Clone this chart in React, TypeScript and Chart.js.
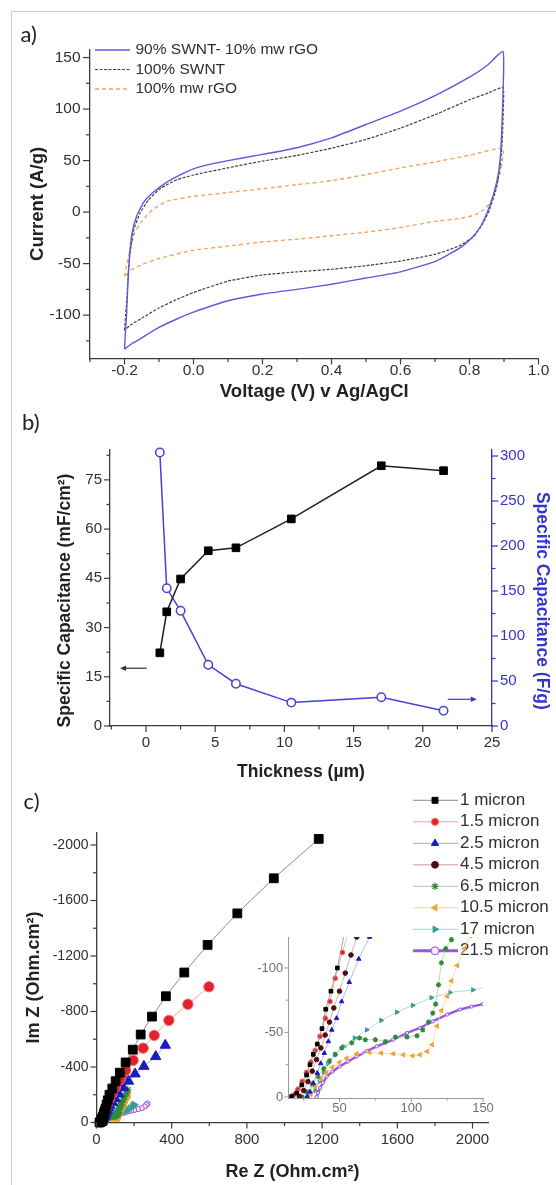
import React, { useEffect, useRef } from 'react';
import { Chart, registerables } from 'chart.js';
import { drawPoint } from 'chart.js/helpers';

Chart.register(...registerables);

const SANS = '"Liberation Sans", Arial, Helvetica, sans-serif';
const AXIS = '#3c3c3c';
const TEXT = '#303030';

/* ---------------- (a) cyclic voltammograms ---------------- */
const cvSeriesNames = ['90% SWNT- 10% mw rGO', '100% SWNT', '100% mw rGO'];
const cvHybridV = [-0.2, -0.197, -0.194, -0.191, -0.186, -0.179, -0.166, -0.146, -0.119, -0.078, -0.027, 0.0, 0.056, 0.1, 0.2, 0.3, 0.4, 0.5, 0.6, 0.7, 0.8, 0.85, 0.897, 0.898, 0.895, 0.891, 0.884, 0.871, 0.853, 0.832, 0.807, 0.776, 0.74, 0.7, 0.6, 0.5, 0.4, 0.3, 0.2, 0.1, 0.0, -0.05, -0.1, -0.15, -0.18, -0.2];
const cvHybridI = [-133, -115, -100, -75, -45, -22, -5, 8.8, 18.5, 28.9, 38, 42, 47, 50, 56, 62.5, 72, 85, 98, 113, 131, 142, 156, 125, 93, 61, 38, 18.5, 1, -14, -25, -34, -41, -48, -58, -64, -70, -75, -79.5, -86, -97, -104, -112, -122, -128, -133];
const cvSwntV = [-0.2, -0.197, -0.193, -0.189, -0.183, -0.173, -0.155, -0.13, -0.094, -0.047, 0.0, 0.1, 0.2, 0.3, 0.4, 0.5, 0.6, 0.7, 0.8, 0.85, 0.897, 0.898, 0.895, 0.889, 0.877, 0.858, 0.837, 0.812, 0.776, 0.735, 0.7, 0.6, 0.5, 0.4, 0.3, 0.2, 0.1, 0.0, -0.05, -0.1, -0.15, -0.18, -0.2];
const cvSwntI = [-114.6, -100, -85, -59, -37, -17, -1, 12, 23.4, 31.5, 36, 43, 49.5, 55, 62, 70.5, 81.5, 94.5, 109, 115, 121, 100, 70.5, 44.5, 22, 2.3, -12, -23.7, -31.8, -37.3, -41, -47.5, -52, -55.5, -58, -61, -67, -78, -85, -93, -103, -109, -114.6];
const cvRgoV = [-0.2, -0.193, -0.186, -0.171, -0.15, -0.119, -0.078, 0.0, 0.1, 0.2, 0.3, 0.4, 0.5, 0.6, 0.7, 0.8, 0.897, 0.894, 0.884, 0.868, 0.848, 0.817, 0.776, 0.7, 0.6, 0.5, 0.4, 0.3, 0.2, 0.1, 0.0, -0.1, -0.15, -0.18, -0.2];
const cvRgoI = [-62.7, -50, -40, -20.5, -9, 2.3, 10.4, 15.3, 19, 22.7, 26.6, 30.5, 36.4, 42.9, 48.7, 55.2, 62, 47.7, 31.5, 15, 4, -2.6, -6, -9, -15, -19.5, -23, -26.3, -29, -33, -37, -45, -51, -56, -62.7];
const cvXMajor = [-0.2, 0, 0.2, 0.4, 0.6, 0.8, 1.0];
const cvXMinor = [-0.3, -0.1, 0.1, 0.3, 0.5, 0.7, 0.9];
const cvYMajor = [-100, -50, 0, 50, 100, 150];
const cvYMinor = [-125, -75, -25, 25, 75, 125];

/* ---------------- (b) capacitance vs thickness ---------------- */
const thickness = [1, 1.5, 2.5, 4.5, 6.5, 10.5, 17, 21.5];
const arealCap = [22.3, 34.8, 44.8, 53.4, 54.3, 63.1, 79.3, 77.8];
const gravCap = [304, 153, 128, 68, 47, 26, 32, 17];
const thXMajor = [0, 5, 10, 15, 20, 25];
const thXMinor = [-2.5, 2.5, 7.5, 12.5, 17.5, 22.5];
const arealMajor = [0, 15, 30, 45, 60, 75];
const arealMinor = [7.5, 22.5, 37.5, 52.5, 67.5, 82.5];
const gravMajor = [0, 50, 100, 150, 200, 250, 300];
const gravMinor = [25, 75, 125, 175, 225, 275];
const arealArrow = { from: [0.05, 17.6], to: [-1.87, 17.6] };
const gravArrow = { from: [21.8, 29.7], to: [23.9, 29.7] };

/* ---------------- (c) Nyquist plots ---------------- */
const eisNames = ['1 micron', '1.5 micron', '2.5 micron', '4.5 micron', '6.5 micron', '10.5 micron', '17 micron', '21.5 micron'];
const eis1Re = [1182, 943, 749, 591, 467, 369, 295, 235, 193, 155, 124, 102, 84, 69, 60, 54, 48.5, 44, 40.4, 37.8, 34.5, 31.7, 29.4, 27.1, 23.7, 20.1, 16.6];
const eis1Im = [-2044, -1760, -1507, -1280, -1081, -910, -763, -634, -525, -433, -359, -298, -245, -200, -160, -130, -100, -82, -68, -53, -41, -33, -25, -17, -9.3, -3, -0.3];
const eis15Re = [598, 486, 385, 307, 248, 195, 155, 125, 100, 82, 67, 58, 52, 47, 43.4, 40.1, 36.4, 33, 30, 27, 24, 21, 18];
const eis15Im = [-978, -852, -736, -628, -536, -448, -375, -310, -255, -208, -168, -135, -112, -92, -74, -61, -47, -36, -27, -19, -12, -6, -1.5];
const eis25Re = [366, 315, 252, 205, 170, 143, 119, 100, 85, 71, 63.4, 56.8, 51.5, 48, 44.6, 42.2, 39.4, 36.9, 34.5, 31.7, 29.4, 27.5];
const eis25Im = [-557, -475, -405, -350, -298, -250, -205, -172, -145, -124, -107, -89, -74, -61, -52, -43, -34, -26, -18.5, -10.7, -4, -0.5];
const eis45Re = [140, 126, 112, 98, 86, 76, 68, 62, 58, 54, 50, 46, 43, 40, 37, 34, 31, 28, 25, 22];
const eis45Im = [-340, -308, -272, -236, -202, -172, -145, -124, -110, -96, -82, -69, -58, -48, -38, -29, -20, -12, -5, -0.5];
const eis65Re = [166, 158, 150, 142, 135, 128, 124, 121, 119, 117, 115, 112, 108, 104, 97, 89, 82, 75, 68, 64, 58.5, 51.5, 47, 43, 39, 35, 31, 27, 24];
const eis65Im = [-235, -212, -190, -165, -145, -122, -115, -104, -87, -72, -65, -58, -52, -47.5, -46.5, -46.5, -43, -44.4, -44.4, -45.7, -42, -38, -33, -28, -22, -16, -10, -4, 0];
const eis105Re = [168, 162, 155, 148, 141, 137, 132, 128, 125, 121, 118, 114.5, 111, 106, 101, 94.5, 87.5, 79, 71, 62, 55, 50, 45, 41, 37, 33, 30];
const eis105Im = [-200, -185, -165, -145, -125, -115, -102, -90, -78, -67, -55, -40.5, -35.3, -32.7, -31.9, -32.7, -33.5, -34, -34.5, -33.5, -30, -27, -23, -19, -14, -8, -2];
const eis17Re = [200, 192, 180, 168, 155, 143, 127, 114, 101, 90, 79, 69, 60.5, 53, 47, 42, 39, 36, 33];
const eis17Im = [-128, -115, -102, -92, -86, -83, -81, -77, -71, -65.7, -59.4, -52, -45.7, -39, -32.7, -26, -19, -12, -5];
const eis215Re = [272, 265, 255, 240, 220, 200, 185, 172, 160, 150, 142, 134, 125, 115, 106, 97, 87.5, 82, 76, 69, 62, 56, 50, 45, 41, 38.5, 36.5, 35, 34];
const eis215Im = [-137, -127, -115, -103, -96, -90, -86, -82, -77, -72, -70, -67.8, -63.9, -58.6, -53.5, -49.6, -44.4, -42, -39.2, -35.5, -31.4, -27.5, -23.6, -19.5, -15.8, -11, -7, -3, 0];
const eisRe = [eis1Re, eis15Re, eis25Re, eis45Re, eis65Re, eis105Re, eis17Re, eis215Re];
const eisIm = [eis1Im, eis15Im, eis25Im, eis45Im, eis65Im, eis105Im, eis17Im, eis215Im];
const eisXMajor = [0, 400, 800, 1200, 1600, 2000];
const eisXMinor = [200, 600, 1000, 1400, 1800];
const eisYMajor = [0, -400, -800, -1200, -1600, -2000];
const eisYMinor = [-200, -600, -1000, -1400, -1800];
const insetXMajor = [50, 100, 150];
const insetXMinor = [25, 75, 125];
const insetYMajor = [0, -50, -100];
const insetYMinor = [-25, -75];

const eisStyle: any[] = [
  { fill: '#000000', edge: '#000000', line: '#8c8c8c', shape: 'rect', rot: 0, r: 6.2, ir: 2.6, lr: 4.2, lw: 1 },
  { fill: '#e3212b', edge: '#f07070', line: '#f3a3a3', shape: 'circle', rot: 0, r: 5.2, ir: 2.4, lr: 3.6, lw: 1 },
  { fill: '#1b1bc4', edge: '#1b1bc4', line: '#a3a3ee', shape: 'triangle', rot: 0, r: 6, ir: 2.6, lr: 4.2, lw: 1 },
  { fill: '#4d0f12', edge: '#4d0f12', line: '#cf9a9a', shape: 'circle', rot: 0, r: 3.6, ir: 2.3, lr: 3.4, lw: 1 },
  { fill: '#2e8b3a', edge: '#2e8b3a', line: '#a9cfa9', shape: 'star', rot: 0, r: 3.8, ir: 2.6, lr: 3.6, lw: 1 },
  { fill: '#f0a431', edge: '#f0a431', line: '#f8d3a3', shape: 'triangle', rot: -90, r: 4.2, ir: 2.6, lr: 3.8, lw: 1 },
  { fill: '#3a9d9a', edge: '#3a9d9a', line: '#a6d3d3', shape: 'triangle', rot: 90, r: 4.2, ir: 2.6, lr: 3.8, lw: 1 },
  { fill: '#f3e8ff', edge: '#9a55e4', line: '#9a55e4', shape: 'circle', rot: 0, r: 2.6, ir: 1.6, lr: 4, lw: 3 },
];

/* ---------------- plugins ---------------- */
function ticksPlugin(sets: any[]) {
  return {
    id: 'outTicks',
    afterDraw(chart: any) {
      const ctx = chart.ctx;
      sets.forEach((t) => {
        const s = chart.scales[t.id];
        const lo = Math.min(s.min, s.max);
        const hi = Math.max(s.min, s.max);
        ctx.save();
        ctx.strokeStyle = t.color;
        ctx.lineWidth = t.lw;
        const one = (v: number, len: number) => {
          if (v < lo - 1e-9 || v > hi + 1e-9) return;
          const p = s.getPixelForValue(v);
          ctx.beginPath();
          if (t.side === 'bottom') { ctx.moveTo(p, s.top); ctx.lineTo(p, s.top + len); }
          else if (t.side === 'left') { ctx.moveTo(s.right, p); ctx.lineTo(s.right - len, p); }
          else { ctx.moveTo(s.left, p); ctx.lineTo(s.left + len, p); }
          ctx.stroke();
        };
        t.major.forEach((v: number) => one(v, t.majorLen));
        t.minor.forEach((v: number) => one(v, t.minorLen));
        ctx.restore();
      });
    },
  };
}

function lineLegendPlugin(cfg: any) {
  return {
    id: 'lineLegend',
    afterDraw(chart: any) {
      const ctx = chart.ctx;
      chart.data.datasets.forEach((ds: any, i: number) => {
        const y = cfg.y0 + i * cfg.dy;
        ctx.save();
        ctx.strokeStyle = ds.borderColor;
        ctx.lineWidth = ds.borderWidth;
        ctx.setLineDash(ds.borderDash || []);
        ctx.beginPath();
        ctx.moveTo(cfg.x0, y);
        ctx.lineTo(cfg.x1, y);
        ctx.stroke();
        ctx.setLineDash([]);
        ctx.fillStyle = cfg.color;
        ctx.font = cfg.font;
        ctx.textAlign = 'left';
        ctx.textBaseline = 'middle';
        ctx.fillText(ds.label, cfg.tx, y);
        ctx.restore();
      });
    },
  };
}

function markerLegendPlugin(cfg: any) {
  return {
    id: 'markerLegend',
    afterDraw(chart: any) {
      const ctx = chart.ctx;
      chart.data.datasets.forEach((ds: any, i: number) => {
        const y = cfg.y0 + i * cfg.dy;
        const st = eisStyle[i];
        ctx.save();
        ctx.strokeStyle = ds.borderColor;
        ctx.lineWidth = ds.borderWidth;
        ctx.beginPath();
        ctx.moveTo(cfg.x0, y);
        ctx.lineTo(cfg.x1, y);
        ctx.stroke();
        ctx.fillStyle = ds.pointBackgroundColor;
        ctx.strokeStyle = ds.pointBorderColor;
        ctx.lineWidth = ds.pointBorderWidth;
        drawPoint(ctx, { pointStyle: ds.pointStyle, rotation: ds.pointRotation || 0, radius: st.lr, borderWidth: ds.pointBorderWidth }, cfg.xm, y);
        ctx.fillStyle = cfg.color;
        ctx.font = cfg.font;
        ctx.textAlign = 'left';
        ctx.textBaseline = 'middle';
        ctx.fillText(ds.label, cfg.tx, y);
        ctx.restore();
      });
    },
  };
}

function textPlugin(items: any[]) {
  return {
    id: 'freeText',
    afterDraw(chart: any) {
      const ctx = chart.ctx;
      items.forEach((t) => {
        ctx.save();
        ctx.translate(t.x, t.y);
        ctx.rotate(t.rot);
        ctx.font = t.font;
        ctx.fillStyle = t.color;
        ctx.textAlign = 'center';
        ctx.textBaseline = 'middle';
        ctx.fillText(t.text, 0, 0);
        ctx.restore();
      });
    },
  };
}

function arrowPlugin(list: any[]) {
  return {
    id: 'arrows',
    afterDraw(chart: any) {
      const ctx = chart.ctx;
      list.forEach((a) => {
        const xs = chart.scales[a.xAxis];
        const ys = chart.scales[a.yAxis];
        const x1 = xs.getPixelForValue(a.from[0]);
        const y1 = ys.getPixelForValue(a.from[1]);
        const x2 = xs.getPixelForValue(a.to[0]);
        const y2 = ys.getPixelForValue(a.to[1]);
        const ang = Math.atan2(y2 - y1, x2 - x1);
        const hl = 6, hw = 2.8;
        const bx = x2 - hl * Math.cos(ang), by = y2 - hl * Math.sin(ang);
        ctx.save();
        ctx.strokeStyle = a.color;
        ctx.fillStyle = a.color;
        ctx.lineWidth = 1.2;
        ctx.beginPath();
        ctx.moveTo(x1, y1);
        ctx.lineTo(bx, by);
        ctx.stroke();
        ctx.beginPath();
        ctx.moveTo(x2, y2);
        ctx.lineTo(bx - hw * Math.sin(ang), by + hw * Math.cos(ang));
        ctx.lineTo(bx + hw * Math.sin(ang), by - hw * Math.cos(ang));
        ctx.closePath();
        ctx.fill();
        ctx.restore();
      });
    },
  };
}

/* ---------------- helpers ---------------- */
const fixedTicks = (vals: number[]) => (s: any) => { s.ticks = vals.map((v) => ({ value: v })); };
const tickFont = (size: number) => ({ family: SANS, size });
const titleFont = (size: number) => ({ family: SANS, size, weight: 'bold' as const });
const noGrid = { display: false, drawTicks: false, tickLength: 0 };
const baseOptions = (padding: any) => ({
  responsive: false,
  maintainAspectRatio: false,
  animation: false as const,
  events: [] as any[],
  layout: { padding },
  plugins: { legend: { display: false }, tooltip: { enabled: false } },
});
const pairs = (xs: number[], ys: number[]) => xs.map((x, i) => ({ x, y: ys[i] }));

/* ---------------- chart configs ---------------- */
function cvConfig(): any {
  const line = (label: string, xs: number[], ys: number[], color: string, width: number, dash: number[]) => ({
    label, data: pairs(xs, ys), showLine: true, borderColor: color, borderWidth: width, borderDash: dash,
    pointRadius: 0, tension: 0.15, fill: false,
  });
  return {
    type: 'scatter',
    data: {
      datasets: [
        line(cvSeriesNames[0], cvHybridV, cvHybridI, '#5b5bdc', 1.4, []),
        line(cvSeriesNames[1], cvSwntV, cvSwntI, '#3e3e3e', 1.2, [3, 1.5]),
        line(cvSeriesNames[2], cvRgoV, cvRgoI, '#f5a55c', 1.4, [4, 3]),
      ],
    },
    options: {
      ...baseOptions({ top: 49.3, right: 17.5, left: 0, bottom: 0 }),
      scales: {
        x: {
          type: 'linear', min: -0.3, max: 1.0,
          afterBuildTicks: fixedTicks(cvXMajor),
          afterFit: (s: any) => { s.height = 61.6; },
          grid: noGrid,
          border: { display: true, color: AXIS, width: 1.3 },
          ticks: { autoSkip: false, maxRotation: 0, padding: 3.5, color: TEXT, font: tickFont(15.5), callback: (v: any) => Number(v).toFixed(1) },
          title: { display: true, text: 'Voltage (V) v Ag/AgCl', color: '#222', font: titleFont(18.5), padding: { top: 0, bottom: 16.5 } },
        },
        y: {
          type: 'linear', min: -142, max: 158,
          afterBuildTicks: fixedTicks(cvYMajor),
          afterFit: (s: any) => { s.width = 90; },
          grid: noGrid,
          border: { display: true, color: AXIS, width: 1.3 },
          ticks: { autoSkip: false, padding: 9.5, color: TEXT, font: tickFont(15.5), callback: (v: any) => String(v) },
          title: { display: true, text: 'Current (A/g)', color: '#222', font: titleFont(18.5), padding: { top: 26.9, bottom: 0 } },
        },
      },
    },
    plugins: [
      ticksPlugin([
        { id: 'x', side: 'bottom', major: cvXMajor, minor: cvXMinor, color: AXIS, majorLen: 6, minorLen: 3.5, lw: 1.2 },
        { id: 'y', side: 'left', major: cvYMajor, minor: cvYMinor, color: AXIS, majorLen: 7, minorLen: 4, lw: 1.2 },
      ]),
      lineLegendPlugin({ x0: 95, x1: 130, tx: 135.5, y0: 50, dy: 19.5, font: `15.5px ${SANS}`, color: TEXT }),
    ],
  };
}

function capConfig(): any {
  const BLUE = '#3434d2';
  return {
    type: 'scatter',
    data: {
      datasets: [
        {
          label: 'Areal', data: pairs(thickness, arealCap), yAxisID: 'y', showLine: true,
          borderColor: '#1f1f1f', borderWidth: 1.5, pointStyle: 'rect', pointRadius: 5.4,
          pointBackgroundColor: '#000', pointBorderColor: '#000', pointBorderWidth: 1, clip: false,
        },
        {
          label: 'Gravimetric', data: pairs(thickness, gravCap), yAxisID: 'y2', showLine: true,
          borderColor: '#4343d8', borderWidth: 1.5, pointStyle: 'circle', pointRadius: 4.2,
          pointBackgroundColor: '#ffffff', pointBorderColor: '#4343d8', pointBorderWidth: 1.5, clip: false,
        },
      ],
    },
    options: {
      ...baseOptions({ top: 50, right: 0, left: 0, bottom: 0 }),
      scales: {
        x: {
          type: 'linear', min: -2.6, max: 25,
          afterBuildTicks: fixedTicks(thXMajor),
          afterFit: (s: any) => { s.height = 74; },
          grid: noGrid,
          border: { display: true, color: AXIS, width: 1.3 },
          ticks: { autoSkip: false, maxRotation: 0, padding: 8, color: TEXT, font: tickFont(15), callback: (v: any) => String(v) },
          title: { display: true, text: 'Thickness (µm)', color: '#222', font: titleFont(17.5), padding: { top: 0, bottom: 17.5 } },
        },
        y: {
          type: 'linear', position: 'left', min: 0, max: 84.1,
          afterBuildTicks: fixedTicks(arealMajor),
          afterFit: (s: any) => { s.width = 110; },
          grid: noGrid,
          border: { display: true, color: AXIS, width: 1.3 },
          ticks: { autoSkip: false, padding: 8, color: TEXT, font: tickFont(15), callback: (v: any) => String(v) },
        },
        y2: {
          type: 'linear', position: 'right', min: 0, max: 306.7,
          afterBuildTicks: fixedTicks(gravMajor),
          afterFit: (s: any) => { s.width = 64; },
          grid: noGrid,
          border: { display: true, color: BLUE, width: 1.3 },
          ticks: { autoSkip: false, padding: 8, color: BLUE, font: tickFont(15), callback: (v: any) => String(v) },
        },
      },
    },
    plugins: [
      ticksPlugin([
        { id: 'x', side: 'bottom', major: thXMajor, minor: thXMinor, color: AXIS, majorLen: 6, minorLen: 3.5, lw: 1.2 },
        { id: 'y', side: 'left', major: arealMajor, minor: arealMinor, color: AXIS, majorLen: 6, minorLen: 3.5, lw: 1.2 },
        { id: 'y2', side: 'right', major: gravMajor, minor: gravMinor, color: BLUE, majorLen: 6, minorLen: 3.5, lw: 1.2 },
      ]),
      arrowPlugin([
        { xAxis: 'x', yAxis: 'y', from: arealArrow.from, to: arealArrow.to, color: '#333' },
        { xAxis: 'x', yAxis: 'y2', from: gravArrow.from, to: gravArrow.to, color: BLUE },
      ]),
      textPlugin([
        { text: 'Specific Capacitance (mF/cm²)', x: 65.6, y: 200.5, rot: -Math.PI / 2, font: `bold 17.5px ${SANS}`, color: '#222' },
        { text: 'Specific Capacitance (F/g)', x: 541.6, y: 200.8, rot: Math.PI / 2, font: `bold 17.5px ${SANS}`, color: BLUE },
      ]),
    ],
  };
}

function eisDatasets(inset: boolean) {
  return eisNames.map((name, i) => {
    const st = eisStyle[i];
    return {
      label: name,
      data: pairs(eisRe[i], eisIm[i]),
      showLine: true,
      borderColor: st.line,
      borderWidth: inset ? (i === 7 ? 2.4 : 0.8) : st.lw,
      pointStyle: st.shape,
      pointRotation: st.rot,
      pointRadius: inset ? st.ir : st.r,
      pointBackgroundColor: st.fill,
      pointBorderColor: st.edge,
      pointBorderWidth: st.shape === 'star' ? 1.3 : 1,
      tension: 0,
      clip: inset ? 0 : false,
    };
  });
}

function eisConfig(): any {
  return {
    type: 'scatter',
    data: { datasets: eisDatasets(false) },
    options: {
      ...baseOptions({ top: 52.5, right: 67.5, left: 0, bottom: 0 }),
      scales: {
        x: {
          type: 'linear', min: 0, max: 2085,
          afterBuildTicks: fixedTicks(eisXMajor),
          afterFit: (s: any) => { s.height = 62.5; },
          grid: noGrid,
          border: { display: true, color: AXIS, width: 1.3 },
          ticks: { autoSkip: false, maxRotation: 0, padding: 8.5, color: TEXT, font: tickFont(15), callback: (v: any) => String(v) },
          title: { display: true, text: 'Re Z (Ohm.cm²)', color: '#222', font: titleFont(18), padding: { top: 0, bottom: 2.2 } },
        },
        y: {
          type: 'linear', min: -2090, max: 0, reverse: true,
          afterBuildTicks: fixedTicks(eisYMajor),
          afterFit: (s: any) => { s.width = 96.5; },
          grid: noGrid,
          border: { display: true, color: AXIS, width: 1.3 },
          ticks: { autoSkip: false, padding: 8, color: TEXT, font: tickFont(14), callback: (v: any) => String(v) },
          title: { display: true, text: 'Im Z (Ohm.cm²)', color: '#222', font: titleFont(18), padding: { top: 22.9, bottom: 0 } },
        },
      },
    },
    plugins: [
      ticksPlugin([
        { id: 'x', side: 'bottom', major: eisXMajor, minor: eisXMinor, color: AXIS, majorLen: 6, minorLen: 3.5, lw: 1.2 },
        { id: 'y', side: 'left', major: eisYMajor, minor: eisYMinor, color: AXIS, majorLen: 6, minorLen: 3.5, lw: 1.2 },
      ]),
      markerLegendPlugin({ x0: 413, x1: 458, xm: 435, tx: 460, y0: 20.3, dy: 21.5, font: `17px ${SANS}`, color: TEXT }),
    ],
  };
}

function insetConfig(): any {
  const GR = '#9a9a9a';
  return {
    type: 'scatter',
    data: { datasets: eisDatasets(true) },
    options: {
      ...baseOptions({ top: 17, right: 17, left: 0, bottom: 0 }),
      scales: {
        x: {
          type: 'linear', min: 14.3, max: 150,
          afterBuildTicks: fixedTicks(insetXMajor),
          afterFit: (s: any) => { s.height = 32; },
          grid: noGrid,
          border: { display: true, color: GR, width: 1 },
          ticks: { autoSkip: false, maxRotation: 0, padding: 3, color: '#707070', font: tickFont(13), callback: (v: any) => String(v) },
        },
        y: {
          type: 'linear', min: -124, max: 0.8, reverse: true,
          afterBuildTicks: fixedTicks(insetYMajor),
          afterFit: (s: any) => { s.width = 58.3; },
          grid: noGrid,
          border: { display: true, color: GR, width: 1 },
          ticks: { autoSkip: false, padding: 5, color: '#707070', font: tickFont(13), callback: (v: any) => String(v) },
        },
      },
    },
    plugins: [
      ticksPlugin([
        { id: 'x', side: 'bottom', major: insetXMajor, minor: insetXMinor, color: GR, majorLen: 4, minorLen: 2.5, lw: 1 },
        { id: 'y', side: 'left', major: insetYMajor, minor: insetYMinor, color: GR, majorLen: 4, minorLen: 2.5, lw: 1 },
      ]),
    ],
  };
}

const panelLabel = (left: number, top: number): React.CSSProperties => ({
  position: 'absolute', left, top, fontFamily: 'Lato, "Open Sans", sans-serif', fontSize: 22,
  lineHeight: '26px', color: '#222', margin: 0,
});

export default function App() {
  const aRef = useRef<HTMLCanvasElement>(null);
  const bRef = useRef<HTMLCanvasElement>(null);
  const cRef = useRef<HTMLCanvasElement>(null);
  const dRef = useRef<HTMLCanvasElement>(null);

  useEffect(() => {
    const charts = [
      new Chart(aRef.current as HTMLCanvasElement, cvConfig()),
      new Chart(bRef.current as HTMLCanvasElement, capConfig()),
      new Chart(cRef.current as HTMLCanvasElement, eisConfig()),
      new Chart(dRef.current as HTMLCanvasElement, insetConfig()),
    ];
    return () => charts.forEach((c) => c.destroy());
  }, []);

  return (
    <div style={{ position: 'absolute', left: 0, top: 0, width: 556, height: 1185, background: '#fff', overflow: 'hidden' }}>
      <div style={{ position: 'absolute', left: 11, top: 11, width: 620, height: 1300, border: '1.5px solid #cdcdcd' }} />
      <canvas ref={aRef} width={556} height={420} style={{ position: 'absolute', left: 0, top: 0 }} />
      <canvas ref={bRef} width={556} height={400} style={{ position: 'absolute', left: 0, top: 400 }} />
      <canvas ref={cRef} width={556} height={405} style={{ position: 'absolute', left: 0, top: 780 }} />
      <canvas ref={dRef} width={270} height={210} style={{ position: 'absolute', left: 230, top: 920 }} />
      <div style={panelLabel(20.5, 20.5)}>a)</div>
      <div style={panelLabel(22, 409)}>b)</div>
      <div style={panelLabel(23.5, 788)}>c)</div>
    </div>
  );
}
